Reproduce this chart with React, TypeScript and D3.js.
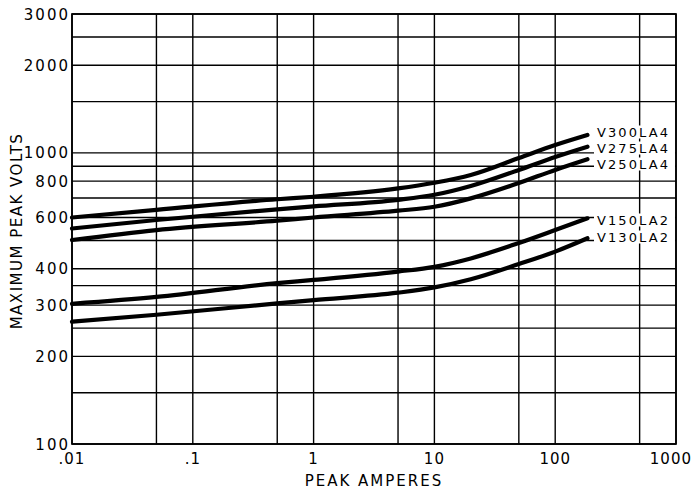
import React from "react";
import * as d3 from "d3";

const amps = [0.01, 0.05, 0.5, 1, 5, 10, 20, 50, 100, 185];
const v300 = [600, 637, 693, 707, 755, 790, 840, 960, 1064, 1152];
const v275 = [550, 588, 640, 655, 690, 718, 770, 874, 968, 1050];
const v250 = [502, 543, 585, 600, 633, 653, 698, 788, 874, 951];
const v150 = [303, 320, 357, 366, 391, 406, 434, 490, 543, 596];
const v130 = [263, 278, 304, 312, 331, 345, 368, 415, 458, 509];
const seriesNames = ["V300LA4", "V275LA4", "V250LA4", "V150LA2", "V130LA2"];

const xTickValues = [0.01, 0.1, 1, 10, 100, 1000];
const xTickLabels = [".01", ".1", "1", "10", "100", "1000"];
const xGrid = [0.01, 0.05, 0.1, 0.5, 1, 5, 10, 50, 100, 500, 1000];
const yTickValues = [100, 200, 300, 400, 600, 800, 1000, 2000, 3000];
const yGrid = [100, 150, 200, 250, 300, 350, 400, 500, 600, 700, 800, 900, 1000, 1500, 2000, 2500, 3000];

export default function App() {
  const W = 694, H = 491;
  const left = 72, right = 676, top = 14, bottom = 444;
  const x = d3.scaleLog().domain([0.01, 1000]).range([left, right]);
  const y = d3.scaleLog().domain([100, 3000]).range([bottom, top]);
  const line = d3
    .line<[number, number]>()
    .x((d) => x(d[0]))
    .y((d) => y(d[1]))
    .curve(d3.curveMonotoneX);
  const allSeries = [v300, v275, v250, v150, v130];
  const labelY = [132, 148, 164, 220, 237];
  const font = "'DejaVu Sans', sans-serif";

  return (
    <svg
      width={W}
      height={H}
      style={{ position: "absolute", left: 0, top: 0, background: "#fff" }}
    >
      <rect x={0} y={0} width={W} height={H} fill="#fff" />
      {xGrid.map((v) => (
        <line key={"xg" + v} x1={x(v)} x2={x(v)} y1={top} y2={bottom} stroke="#000" strokeWidth={1.4} />
      ))}
      {yGrid.map((v) => (
        <line key={"yg" + v} x1={left} x2={right} y1={y(v)} y2={y(v)} stroke="#000" strokeWidth={1.4} />
      ))}
      {allSeries.map((s, i) => (
        <path
          key={"s" + i}
          d={line(amps.map((a, j) => [a, s[j]] as [number, number])) || ""}
          fill="none"
          stroke="#000"
          strokeWidth={4.2}
          strokeLinecap="round"
        />
      ))}
      {allSeries.map((s, i) => {
        const yy = labelY[i];
        return (
          <g key={"l" + i}>
            <rect x={594} y={yy - 6.5} width={81} height={13} fill="#fff" />
            <text
              x={597}
              y={yy + 5}
              fontFamily={font}
              fontSize={13}
              letterSpacing={2.1}
              fill="#000"
            >
              {seriesNames[i]}
            </text>
          </g>
        );
      })}
      <rect x={left} y={top} width={right - left} height={bottom - top} fill="none" stroke="#000" strokeWidth={1.7} />
      {yTickValues.map((v) => (
        <text
          key={"yt" + v}
          x={70}
          y={y(v) + 5.5}
          textAnchor="end"
          fontFamily={font}
          fontSize={15}
          letterSpacing={2}
          fill="#000"
        >
          {String(v)}
        </text>
      ))}
      {xTickValues.map((v, i) => (
        <text
          key={"xt" + v}
          x={i === xTickValues.length - 1 ? 692 : x(v)}
          y={464}
          textAnchor={i === xTickValues.length - 1 ? "end" : "middle"}
          fontFamily={font}
          fontSize={15}
          letterSpacing={1}
          fill="#000"
        >
          {xTickLabels[i]}
        </text>
      ))}
      <text
        x={374}
        y={486}
        textAnchor="middle"
        fontFamily={font}
        fontSize={15}
        letterSpacing={2}
        fill="#000"
      >
        PEAK AMPERES
      </text>
      <text
        transform={`translate(22, ${(top + bottom) / 2 + 2}) rotate(-90)`}
        textAnchor="middle"
        fontFamily={font}
        fontSize={15}
        letterSpacing={1.5}
        fill="#000"
      >
        MAXIMUM PEAK VOLTS
      </text>
    </svg>
  );
}
